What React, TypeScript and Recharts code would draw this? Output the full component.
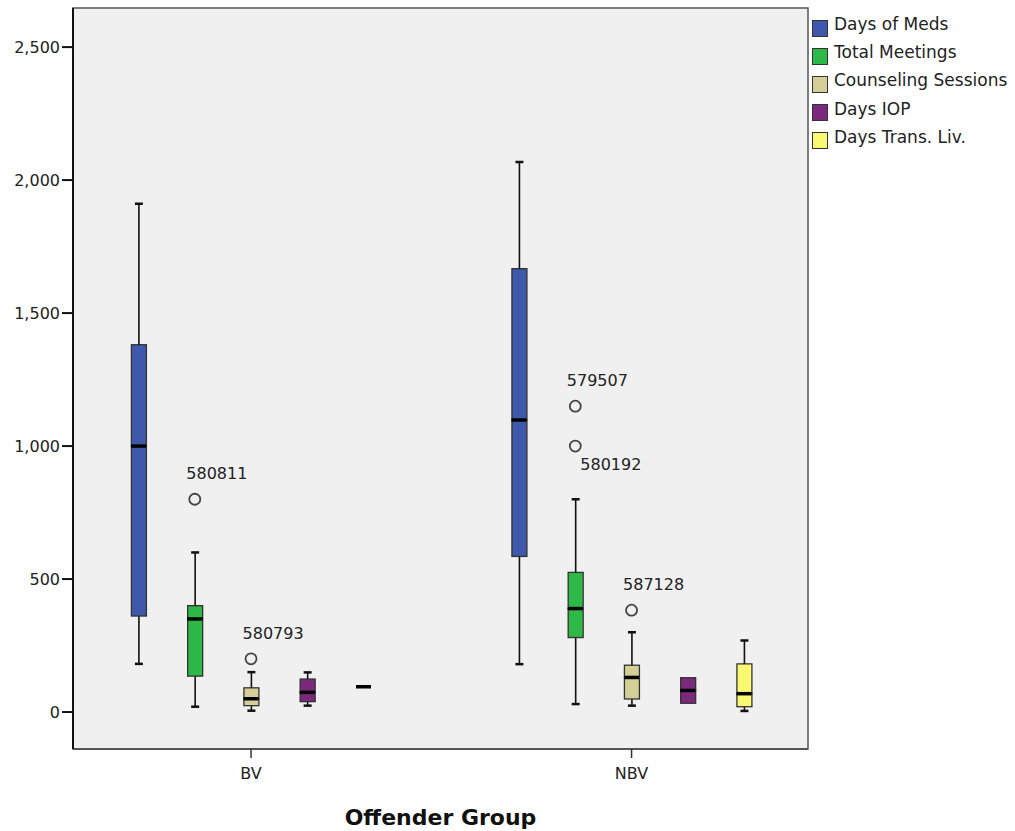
import React from 'react';
import {
  ComposedChart,
  Bar,
  Scatter,
  XAxis,
  YAxis,
  CartesianGrid,
  ReferenceArea,
} from 'recharts';

const groups = ['BV', 'NBV'];
const seriesNames = ['Days of Meds', 'Total Meetings', 'Counseling Sessions', 'Days IOP', 'Days Trans. Liv.'];
const seriesColors = ['#3e58ac', '#2eb848', '#d4ce97', '#7b287d', '#fbf873'];

// box statistics, one value per series
const bvMin = [181, 20, 5, 24, 95];
const bvQ1 = [361, 135, 24, 39, 95];
const bvMedian = [1000, 350, 50, 74, 95];
const bvQ3 = [1381, 400, 91, 124, 95];
const bvMax = [1911, 600, 150, 149, 95];

const nbvMin = [180, 30, 24, 33, 4];
const nbvQ1 = [585, 280, 49, 33, 20];
const nbvMedian = [1098, 389, 130, 81, 69];
const nbvQ3 = [1667, 525, 176, 129, 181];
const nbvMax = [2068, 800, 300, 129, 269];

const outlierGroups = ['BV', 'BV', 'NBV', 'NBV', 'NBV'];
const outlierSeries = [1, 2, 1, 1, 2];
const outlierValues = [800, 200, 1150, 1000, 383];
const outlierIds = ['580811', '580793', '579507', '580192', '587128'];

const yTicks = [0, 500, 1000, 1500, 2000, 2500];

// layout
const GROUP_X = [3.165, 9.93];
const X_DOMAIN = [0, 13.067];
const Y_DOMAIN = [-139, 2647];
const BOX_W = 15;
const LABEL_BELOW = ['580192'];
const FONT = 'DejaVu Sans';

const stats = [
  { min: bvMin, q1: bvQ1, med: bvMedian, q3: bvQ3, max: bvMax },
  { min: nbvMin, q1: nbvQ1, med: nbvMedian, q3: nbvQ3, max: nbvMax },
];

const boxData = groups.flatMap((g, gi) =>
  seriesNames.map((name, si) => {
    const s = stats[gi];
    return {
      x: GROUP_X[gi] + si - 2,
      color: seriesColors[si],
      base: s.min[si],
      lowW: s.q1[si] - s.min[si],
      lowBox: s.med[si] - s.q1[si],
      highBox: s.q3[si] - s.med[si],
      highW: s.max[si] - s.q3[si],
      median: s.med[si],
    };
  })
);

const outlierData = outlierValues.map((v, i) => ({
  x: GROUP_X[groups.indexOf(outlierGroups[i])] + outlierSeries[i] - 2,
  value: v,
  id: outlierIds[i],
}));

const norm = (p: any) => {
  const height = p.height || 0;
  const top = height < 0 ? p.y + height : p.y;
  return { top, h: Math.abs(height), cx: p.x + p.width / 2 };
};

const Empty = () => <g />;

function LowWhisker(props: any) {
  const { top, h, cx } = norm(props);
  if (h < 0.5) return <g />;
  return (
    <g>
      <line x1={cx} x2={cx} y1={top} y2={top + h} stroke="#111" strokeWidth={1.6} />
      <line x1={cx - 4} x2={cx + 4} y1={top + h} y2={top + h} stroke="#111" strokeWidth={2.5} />
    </g>
  );
}

function HighWhisker(props: any) {
  const { top, h, cx } = norm(props);
  if (h < 0.5) return <g />;
  return (
    <g>
      <line x1={cx} x2={cx} y1={top} y2={top + h} stroke="#111" strokeWidth={1.6} />
      <line x1={cx - 4} x2={cx + 4} y1={top} y2={top} stroke="#111" strokeWidth={2.5} />
    </g>
  );
}

function BoxPart(props: any) {
  const { top, h } = norm(props);
  if (h < 0.5) return <g />;
  return (
    <rect
      x={props.x}
      y={top}
      width={props.width}
      height={h}
      fill={props.payload.color}
      stroke="#333"
      strokeWidth={1.3}
    />
  );
}

function MedianLine(props: any) {
  const { cx, cy } = props;
  return <line x1={cx - BOX_W / 2} x2={cx + BOX_W / 2} y1={cy} y2={cy} stroke="#000" strokeWidth={3.5} />;
}

function OutlierDot(props: any) {
  const { cx, cy, payload } = props;
  const below = LABEL_BELOW.includes(payload.id);
  return (
    <g>
      <circle cx={cx} cy={cy} r={5.5} fill="none" stroke="#444" strokeWidth={1.8} />
      <text
        x={below ? cx + 5 : cx - 8.5}
        y={below ? cy + 18 : cy - 25.5}
        dominantBaseline="central"
        fontSize={16}
        fill="#222"
        fontFamily={FONT}
      >
        {payload.id}
      </text>
    </g>
  );
}

function LegendBox() {
  return (
    <div style={{ position: 'absolute', left: 812, top: 14, fontFamily: FONT, fontSize: 17, color: '#222' }}>
      {seriesNames.map((name, i) => (
        <div key={name} style={{ display: 'flex', alignItems: 'center', height: 28.2 }}>
          <div
            style={{
              width: 14,
              height: 15,
              background: seriesColors[i],
              border: '1.2px solid #333',
              marginRight: 6,
            }}
          />
          <span style={{ lineHeight: '18px', marginTop: -8 }}>{name}</span>
        </div>
      ))}
    </div>
  );
}

export default function App() {
  return (
    <div style={{ position: 'absolute', left: 0, top: 0, width: 1015, height: 831, background: '#fff' }}>
      <ComposedChart
        width={1015}
        height={831}
        data={boxData}
        margin={{ top: 8, right: 207, left: 0, bottom: 52 }}
        style={{ fontFamily: FONT }}
      >
        <CartesianGrid horizontal={false} vertical={false} fill="#f0f0f0" />
        <XAxis
          type="number"
          dataKey="x"
          domain={X_DOMAIN}
          ticks={GROUP_X}
          allowDataOverflow
          tickFormatter={(v: number) => groups[GROUP_X.indexOf(v)] ?? ''}
          height={30}
          tickSize={9}
          tickMargin={10}
          tick={{ fontSize: 16, fill: '#222' }}
          axisLine={{ stroke: '#555', strokeWidth: 2 }}
          tickLine={{ stroke: '#333', strokeWidth: 1.5 }}
          label={{
            value: 'Offender Group',
            position: 'bottom',
            offset: 30,
            style: { fontSize: 22, fontWeight: 'bold', fill: '#111', fontFamily: FONT },
          }}
        />
        <YAxis
          type="number"
          domain={Y_DOMAIN}
          ticks={yTicks}
          allowDataOverflow
          width={73}
          tickSize={11}
          tickMargin={2}
          tickFormatter={(v: number) => v.toLocaleString('en-US')}
          tick={{ fontSize: 16, fill: '#222' }}
          axisLine={{ stroke: '#111', strokeWidth: 2 }}
          tickLine={{ stroke: '#111', strokeWidth: 2 }}
        />
        <ReferenceArea
          x1={X_DOMAIN[0]}
          x2={X_DOMAIN[1]}
          y1={Y_DOMAIN[0]}
          y2={Y_DOMAIN[1]}
          fill="none"
          stroke="#555"
          strokeWidth={1.5}
          ifOverflow="visible"
        />
        <Bar dataKey="base" stackId="b" barSize={BOX_W} shape={Empty} isAnimationActive={false} />
        <Bar dataKey="lowW" stackId="b" barSize={BOX_W} shape={LowWhisker} isAnimationActive={false} />
        <Bar dataKey="lowBox" stackId="b" barSize={BOX_W} shape={BoxPart} isAnimationActive={false} />
        <Bar dataKey="highBox" stackId="b" barSize={BOX_W} shape={BoxPart} isAnimationActive={false} />
        <Bar dataKey="highW" stackId="b" barSize={BOX_W} shape={HighWhisker} isAnimationActive={false} />
        <Scatter data={boxData} dataKey="median" shape={MedianLine} isAnimationActive={false} />
        <Scatter data={outlierData} dataKey="value" shape={OutlierDot} isAnimationActive={false} />
      </ComposedChart>
      <LegendBox />
    </div>
  );
}
